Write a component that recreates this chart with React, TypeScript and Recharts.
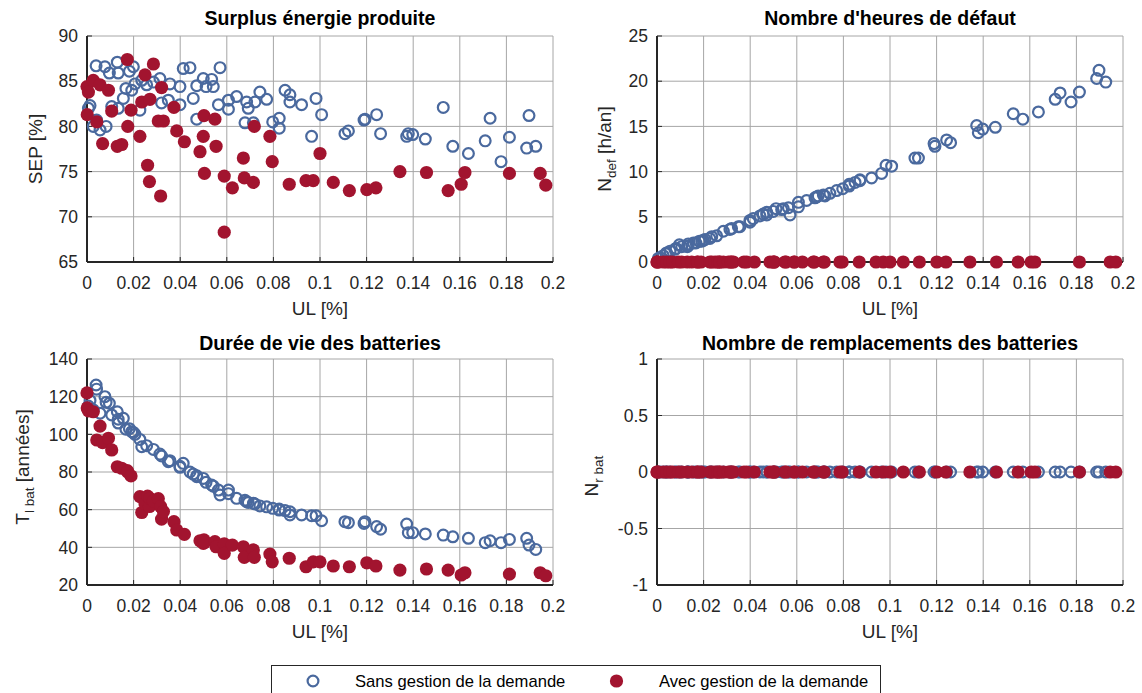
import React from "react";
import { ScatterChart, Scatter, XAxis, YAxis, CartesianGrid } from "recharts";

// UL [%] for each simulation, shared by the four panels
const ulSans = [
  0.0006, 0.0013, 0.0027, 0.0039, 0.0041, 0.0056, 0.0077, 0.0082, 0.0096, 0.0106,
  0.013, 0.0134, 0.0134, 0.0156, 0.0167, 0.0182, 0.0192, 0.0199, 0.0206, 0.0227,
  0.0235, 0.0256, 0.0285, 0.0313, 0.032, 0.0349, 0.0356, 0.0399, 0.0399, 0.0413,
  0.0442, 0.0456, 0.0471, 0.0471, 0.0499, 0.0511, 0.0535, 0.0542, 0.0564, 0.0571,
  0.0607, 0.0607, 0.0642, 0.0678, 0.0685, 0.0692, 0.0714, 0.0721, 0.0742, 0.0771,
  0.0797, 0.0825, 0.0825, 0.085, 0.0871, 0.0871, 0.0921, 0.0964, 0.0983, 0.1007,
  0.1107, 0.1122, 0.1189, 0.1193, 0.1243, 0.126, 0.1372, 0.1379, 0.1398, 0.1452,
  0.1529, 0.157, 0.1637, 0.1709, 0.173, 0.1777, 0.1813, 0.1887, 0.1897, 0.1926,
];
const sepSans = [
  82.0, 82.3, 80.0, 86.7, 80.7, 79.6, 86.6, 80.0, 85.9, 82.2,
  87.1, 85.9, 82.0, 83.1, 84.2, 86.1, 84.0, 86.6, 84.7, 81.8,
  85.1, 84.6, 84.9, 85.3, 82.6, 82.9, 84.7, 84.4, 82.4, 86.4,
  86.5, 83.1, 84.5, 80.8, 85.3, 84.4, 85.2, 84.4, 82.4, 86.5,
  82.9, 81.9, 83.3, 80.4, 82.7, 82.0, 80.4, 82.7, 83.8, 83.0,
  80.5, 80.9, 79.8, 84.0, 83.5, 82.7, 82.4, 78.9, 83.1, 81.3,
  79.2, 79.5, 80.7, 80.8, 81.3, 79.2, 78.9, 79.2, 79.1, 78.6,
  82.1, 77.8, 77.0, 78.4, 80.9, 76.1, 78.8, 77.6, 81.2, 77.8,
];
const ndefSans = [
  0.4, 0.5, 0.7, 0.9, 1.0, 1.2, 1.4, 1.5, 1.9, 1.7,
  1.7, 2.0, 1.8, 2.1, 2.1, 2.3, 2.3, 2.4, 2.5, 2.6,
  2.8, 2.9, 3.4, 3.6, 3.7, 3.9, 3.9, 4.4, 4.6, 4.8,
  5.1, 5.3, 5.5, 5.2, 5.6, 5.9, 5.8, 5.9, 6.0, 5.2,
  6.6, 6.1, 6.8, 7.1, 7.2, 7.3, 7.4, 7.3, 7.6, 7.9,
  8.1, 8.4, 8.6, 8.8, 9.1, 9.0, 9.3, 9.8, 10.7, 10.6,
  11.5, 11.5, 13.1, 12.8, 13.5, 13.2, 15.1, 14.3, 14.7, 14.9,
  16.4, 15.8, 16.6, 18.0, 18.7, 17.7, 18.8, 20.3, 21.2, 19.9,
];
const tbatSans = [
  115, 118, 113, 126.2, 124, 111.2, 120, 117, 116.5, 110.3,
  112, 108, 106, 108.5, 102.7, 103, 101.4, 101, 100, 97.3,
  93.4, 94, 92, 89.5, 88.5, 85.5, 86, 82.5, 83, 84.6,
  80, 78.9, 78, 77.5, 76.6, 74.5, 73.1, 72.5, 70.4, 67.8,
  70.4, 68.5, 66, 65, 64.2, 63.8, 63.4, 63, 62, 61.5,
  60.7, 59.8, 60.3, 59.5, 58.9, 57.2, 57.2, 56.8, 56.8, 54.1,
  53.6, 53.1, 52.7, 53.6, 51, 49.6, 52.4, 47.8, 47.8, 47.1,
  46.5, 45.6, 44.8, 42.5, 43.5, 42.5, 44.2, 44.8, 41.2, 38.9,
];
const nrSans = [
  0, 0, 0, 0, 0, 0, 0, 0, 0, 0,
  0, 0, 0, 0, 0, 0, 0, 0, 0, 0,
  0, 0, 0, 0, 0, 0, 0, 0, 0, 0,
  0, 0, 0, 0, 0, 0, 0, 0, 0, 0,
  0, 0, 0, 0, 0, 0, 0, 0, 0, 0,
  0, 0, 0, 0, 0, 0, 0, 0, 0, 0,
  0, 0, 0, 0, 0, 0, 0, 0, 0, 0,
  0, 0, 0, 0, 0, 0, 0, 0, 0, 0,
];

const ulAvec = [
  0.0, 0.0001, 0.0006, 0.0027, 0.0042, 0.0056, 0.0067, 0.0092, 0.0106, 0.013,
  0.0149, 0.0173, 0.0175, 0.0189, 0.0227, 0.0235, 0.0249, 0.026, 0.0268, 0.027,
  0.0285, 0.0306, 0.0316, 0.032, 0.0328, 0.0373, 0.0385, 0.0418, 0.0485, 0.0499,
  0.0502, 0.0504, 0.0549, 0.0554, 0.0589, 0.0589, 0.0624, 0.0671, 0.0675, 0.0714,
  0.0718, 0.0785, 0.0795, 0.0868, 0.094, 0.0971, 0.1, 0.1057, 0.1126, 0.1201,
  0.124, 0.1343, 0.1457, 0.155, 0.1606, 0.1622, 0.1813, 0.1945, 0.1969,
];
const sepAvec = [
  84.4, 81.3, 83.8, 85.1, 80.5, 84.6, 78.1, 84.0, 81.7, 77.8,
  78.0, 87.4, 80.0, 81.8, 78.9, 82.7, 85.7, 75.7, 73.9, 83.0,
  86.9, 80.6, 72.3, 84.3, 80.6, 82.1, 79.5, 78.3, 77.2, 78.9,
  81.2, 74.8, 80.8, 77.8, 74.5, 68.3, 73.2, 76.5, 74.3, 73.8,
  80.0, 78.9, 76.1, 73.6, 74.0, 74.0, 77.0, 73.8, 72.9, 73.0,
  73.2, 75.0, 74.9, 72.9, 73.6, 74.9, 74.8, 74.8, 73.5,
];
const ndefAvec = [
  0, 0, 0, 0, 0, 0, 0, 0, 0, 0,
  0, 0, 0, 0, 0, 0, 0, 0, 0, 0,
  0, 0, 0, 0, 0, 0, 0, 0, 0, 0,
  0, 0, 0, 0, 0, 0, 0, 0, 0, 0,
  0, 0, 0, 0, 0, 0, 0, 0, 0, 0,
  0, 0, 0, 0, 0, 0, 0, 0, 0,
];
const tbatAvec = [
  122, 114, 112.5, 112, 97, 104.4, 95.6, 97.9, 91.7, 82.8,
  82, 80.7, 80, 77.9, 66.9, 58.5, 63.2, 67.2, 61.7, 66,
  64.5, 65.9, 61.7, 55, 59, 53.6, 49.2, 46.9, 43.5, 42.1,
  44, 42.5, 43, 40.3, 41.8, 36.8, 41.2, 40.3, 34.7, 38.6,
  34.7, 36.4, 32.3, 34.2, 29.7, 32.3, 32.3, 30.1, 29.7, 31.8,
  30.1, 27.9, 28.5, 27.9, 25.3, 26.5, 25.8, 26.5, 24.9,
];
const nrAvec = [
  0, 0, 0, 0, 0, 0, 0, 0, 0, 0,
  0, 0, 0, 0, 0, 0, 0, 0, 0, 0,
  0, 0, 0, 0, 0, 0, 0, 0, 0, 0,
  0, 0, 0, 0, 0, 0, 0, 0, 0, 0,
  0, 0, 0, 0, 0, 0, 0, 0, 0, 0,
  0, 0, 0, 0, 0, 0, 0, 0, 0,
];

const xTicks = [0, 0.02, 0.04, 0.06, 0.08, 0.1, 0.12, 0.14, 0.16, 0.18, 0.2];
const sepTicks = [65, 70, 75, 80, 85, 90];
const ndefTicks = [0, 5, 10, 15, 20, 25];
const tbatTicks = [20, 40, 60, 80, 100, 120, 140];
const nrTicks = [-1, -0.5, 0, 0.5, 1];

const BLUE = "#4a699e";
const RED = "#a2142f";
const INK = "#262626";
const GRID = "#a6a6a6";
const FONT = '"Liberation Sans", Arial, Helvetica, sans-serif';

const pts = (xs: number[], ys: number[]) => xs.map((x, i) => ({ x, y: ys[i] }));
const fmt = (v: number) => String(Math.round(v * 100) / 100);

const OpenDot = (p: any) => (
  <circle cx={p.cx} cy={p.cy} r={5.4} fill="none" stroke={BLUE} strokeWidth={2.2} />
);
const FullDot = (p: any) => <circle cx={p.cx} cy={p.cy} r={6.6} fill={RED} />;

type PanelProps = {
  left: number;
  top: number;
  yTicks: number[];
  sans: { x: number; y: number }[];
  avec: { x: number; y: number }[];
};

// plot area is 466 x 226, placed at (left, top) on the page
function Panel({ left, top, yTicks, sans, avec }: PanelProps) {
  const axis = { stroke: INK, strokeWidth: 2 };
  const tick = { fill: INK, fontSize: 17.5 };
  return (
    <div style={{ position: "absolute", left: left - 60, top: top - 30 }}>
      <ScatterChart width={546} height={306} margin={{ top: 30, right: 20, bottom: 20, left: 20 }}>
        <CartesianGrid stroke={GRID} />
        <XAxis
          type="number"
          dataKey="x"
          domain={[0, 0.2]}
          ticks={xTicks}
          interval={0}
          tickFormatter={fmt}
          height={30}
          tickSize={-5}
          tickMargin={20}
          tick={tick}
          axisLine={axis}
          tickLine={{ stroke: INK }}
        />
        <YAxis
          type="number"
          dataKey="y"
          domain={[yTicks[0], yTicks[yTicks.length - 1]]}
          ticks={yTicks}
          interval={0}
          width={40}
          tickSize={-5}
          tickMargin={14}
          tick={tick}
          axisLine={axis}
          tickLine={{ stroke: INK }}
        />
        <Scatter data={sans} shape={OpenDot} isAnimationActive={false} />
        <Scatter data={avec} shape={FullDot} isAnimationActive={false} />
      </ScatterChart>
    </div>
  );
}

const YLabel = ({ x, y, main, sub, rest }: { x: number; y: number; main: string; sub: string; rest?: string }) => (
  <text transform={`translate(${x},${y}) rotate(-90)`} textAnchor="middle" fontSize={19} fill={INK}>
    {main}
    <tspan dy={5} fontSize={13.5}>{sub}</tspan>
    {rest ? <tspan dy={-5}>{rest}</tspan> : null}
  </text>
);

export default function App() {
  return (
    <div
      style={{
        position: "absolute",
        left: 0,
        top: 0,
        width: 1142,
        height: 693,
        overflow: "hidden",
        background: "#fff",
        fontFamily: FONT,
      }}
    >
      <Panel left={87} top={36} yTicks={sepTicks} sans={pts(ulSans, sepSans)} avec={pts(ulAvec, sepAvec)} />
      <Panel left={657} top={36} yTicks={ndefTicks} sans={pts(ulSans, ndefSans)} avec={pts(ulAvec, ndefAvec)} />
      <Panel left={87} top={359} yTicks={tbatTicks} sans={pts(ulSans, tbatSans)} avec={pts(ulAvec, tbatAvec)} />
      <Panel left={657} top={359} yTicks={nrTicks} sans={pts(ulSans, nrSans)} avec={pts(ulAvec, nrAvec)} />

      <svg
        width={1142}
        height={693}
        style={{ position: "absolute", left: 0, top: 0, pointerEvents: "none", fontFamily: FONT }}
      >
        <g fontWeight="bold" fontSize={19.5} fill="#000" textAnchor="middle">
          <text x={320} y={25}>Surplus énergie produite</text>
          <text x={890} y={25}>Nombre d'heures de défaut</text>
          <text x={320} y={350}>Durée de vie des batteries</text>
          <text x={890} y={350}>Nombre de remplacements des batteries</text>
        </g>
        <g fontSize={19} fill={INK} textAnchor="middle">
          <text x={320} y={315}>UL [%]</text>
          <text x={890} y={315}>UL [%]</text>
          <text x={320} y={638}>UL [%]</text>
          <text x={890} y={638}>UL [%]</text>
          <text transform="translate(42,149) rotate(-90)">SEP [%]</text>
        </g>
        <YLabel x={611} y={149} main="N" sub="def" rest=" [h/an]" />
        <YLabel x={28.5} y={467} main="T" sub="l bat" rest=" [années]" />
        <YLabel x={598} y={476} main="N" sub="r bat" />

        <rect x={271.5} y={665.5} width={609} height={40} fill="#fff" stroke={INK} strokeWidth={1} />
        <circle cx={313} cy={681} r={5.4} fill="none" stroke={BLUE} strokeWidth={2.2} />
        <text x={355} y={687} fontSize={16.6} fill="#000">Sans gestion de la demande</text>
        <circle cx={616.5} cy={681} r={6.6} fill={RED} />
        <text x={659} y={687} fontSize={16.6} fill="#000">Avec gestion de la demande</text>
      </svg>
    </div>
  );
}
